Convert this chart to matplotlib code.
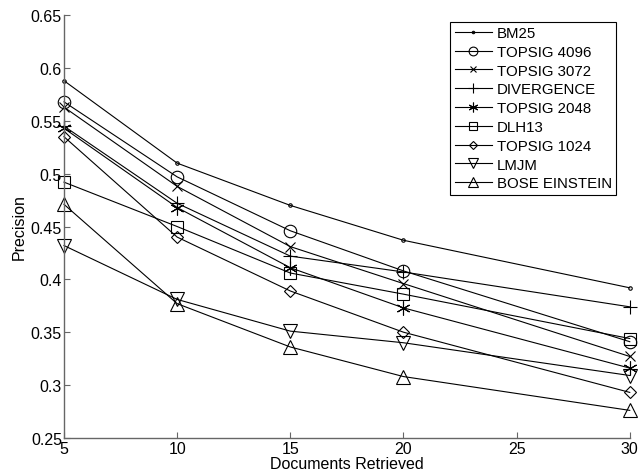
import numpy as np
import matplotlib
matplotlib.use('Agg')
import matplotlib.pyplot as plt

plt.rcParams['font.family'] = ['Liberation Sans', 'DejaVu Sans']

# Data
docs = [5, 10, 15, 20, 30]
bm25 = [0.588, 0.510, 0.470, 0.437, 0.392]
topsig_4096 = [0.568, 0.497, 0.446, 0.408, 0.341]
topsig_3072 = [0.563, 0.488, 0.431, 0.396, 0.327]
divergence = [0.545, 0.472, 0.422, 0.407, 0.374]
topsig_2048 = [0.543, 0.468, 0.411, 0.373, 0.316]
dlh13 = [0.492, 0.450, 0.406, 0.386, 0.344]
topsig_1024 = [0.535, 0.440, 0.389, 0.350, 0.293]
lmjm = [0.432, 0.381, 0.351, 0.340, 0.309]
bose_einstein = [0.471, 0.377, 0.336, 0.308, 0.276]

series = [
    ('BM25', bm25, '.', 5),
    ('TOPSIG 4096', topsig_4096, 'o', 9),
    ('TOPSIG 3072', topsig_3072, 'x', 7),
    ('DIVERGENCE', divergence, '+', 10),
    ('TOPSIG 2048', topsig_2048, (6, 2, 0), 10),
    ('DLH13', dlh13, 's', 8),
    ('TOPSIG 1024', topsig_1024, 'D', 7.5),
    ('LMJM', lmjm, 'v', 9.5),
    ('BOSE EINSTEIN', bose_einstein, '^', 9.5),
]

fig = plt.figure(figsize=(6.4, 4.77), dpi=100)
ax = fig.add_axes([0.100, 0.080, 0.884, 0.886])

sizes = []
for name, vals, mk, ms in series:
    if mk == 'D':
        ms = ms * 0.75
    sizes.append(ms)
    ax.plot(docs, vals, color='black', linewidth=0.8, marker=mk,
            markersize=ms, markerfacecolor='none', clip_on=False,
            markeredgecolor='black', markeredgewidth=0.8, label=name)

ax.set_xlim(5, 30)
ax.set_ylim(0.25, 0.65)
ax.set_xticks([5, 10, 15, 20, 25, 30])
ax.set_yticks(np.arange(0.25, 0.651, 0.05))
ax.set_yticklabels(['0.25', '0.3', '0.35', '0.4', '0.45', '0.5', '0.55', '0.6', '0.65'])
ax.set_xlabel('Documents Retrieved', fontsize=11.5, labelpad=0)
ax.set_ylabel('Precision', fontsize=11.5, labelpad=3)
ax.tick_params(direction='in', length=4, width=0.8, color='0.4', labelsize=11.5)
ax.tick_params(axis='y', pad=1.5)
ax.tick_params(axis='x', pad=2.5)

for side in ['top', 'right']:
    ax.spines[side].set_visible(False)
for side in ['left', 'bottom']:
    ax.spines[side].set_color('0.4')
    ax.spines[side].set_linewidth(1.0)

leg = ax.legend(loc='upper right', bbox_to_anchor=(0.976, 0.985), fontsize=10.8,
                frameon=True, fancybox=False, edgecolor='black', framealpha=1,
                handlelength=2.5, handletextpad=0.3, borderpad=0.3,
                labelspacing=0.32, borderaxespad=0)
leg.get_frame().set_linewidth(0.8)
for h, ms in zip(leg.legend_handles, sizes):
    h.set_markersize(ms * 0.7)

fig.savefig('out.png', dpi=100)
